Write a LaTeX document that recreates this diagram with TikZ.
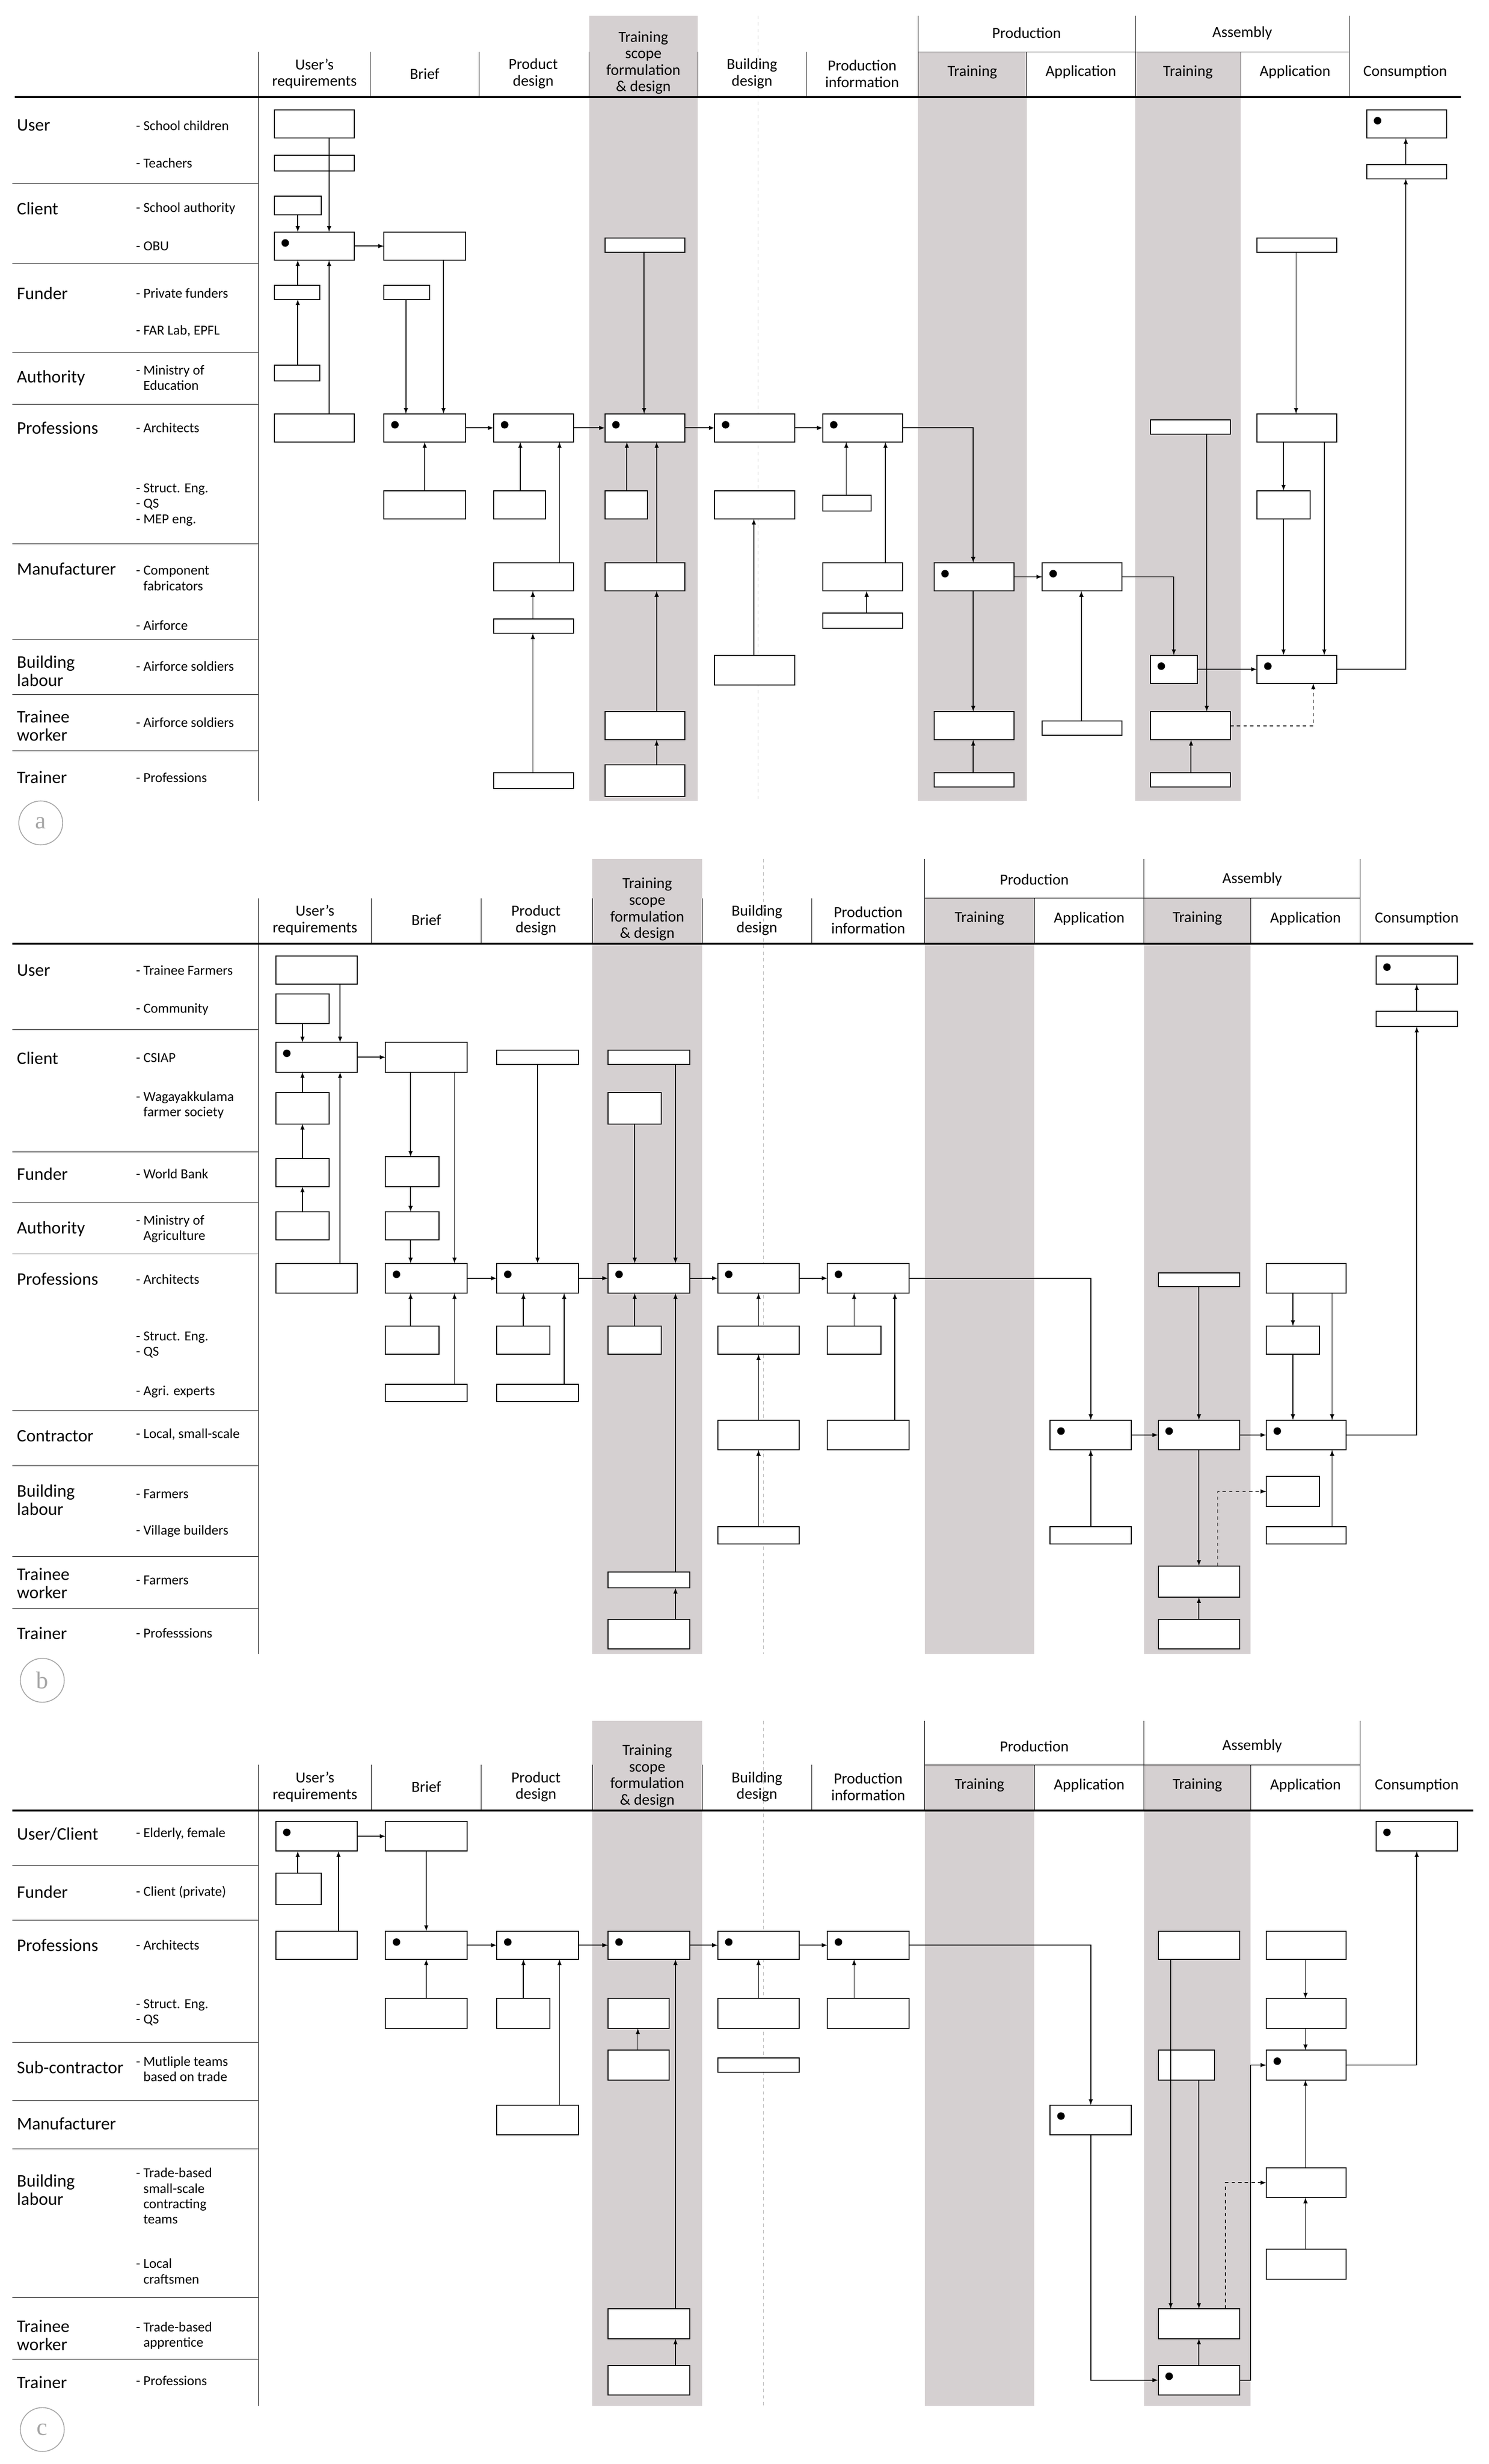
\documentclass[tikz,border=0pt]{standalone}
\usepackage{fontspec}
\setmainfont{Carlito}
\newfontfamily\serf{Liberation Serif}
\usetikzlibrary{arrows}
\definecolor{shd}{RGB}{213,208,209}

% boxes given by corners, dotted variant marks the leading actor
\newcommand\bx[5]{\node[box,minimum width={(#4-#2)*0.5mm},minimum height={(#5-#3)*0.5mm}] (#1) at ({(#2+#4)/2},{(#3+#5)/2}) {};}
\newcommand\bxd[5]{\bx{#1}{#2}{#3}{#4}{#5}\fill ({#2+7},{#3+7}) circle (1.2mm);}
% vertical and horizontal connectors
\newcommand\vup[3]{\draw[arr] (#1,0 |- #2.north) -- (#1,0 |- #3.south);}
\newcommand\vdn[3]{\draw[arr] (#1,0 |- #2.south) -- (#1,0 |- #3.north);}
\newcommand\hrt[2]{\draw[arr] (#1.east) -- (#1.east -| #2.west);}
\newcommand\rwl[2]{\node[rowlbl] at (10,#1) {#2};}
\newcommand\sbl[2]{\node[sublbl] at (86,#1) {#2};}

% column header of one panel: top, bar, bottom, stretch
\newcommand\header[4]{%
\pgfmathsetmacro\hs{#2-29}
\begin{scope}[shift={(165,0)},xscale=#4,shift={(-165,0)}]
\fill[shd] (378,#1) rectangle (448,#3);
\fill[shd] (590,\hs) rectangle (660,#3);
\fill[shd] (730,\hs) rectangle (798,#3);
\draw[gray!60,dashed] (487,#1) -- (487,#3);
\draw (165,\hs) -- (165,#3);
\foreach \c in {237,307,378,448,518,660,798} \draw (\c,\hs) -- (\c,#2);
\foreach \c in {590,730,868} \draw (\c,#1) -- (\c,#2);
\draw (590,\hs) -- (868,\hs);
\draw[line width=1.6pt] (8,#2) -- (940,#2);
\node[hdr] (h1) at (201,#2-15) {User's\\requirements};
\node[hdr] (h2) at (272,#2-15) {Brief};
\node[hdr] (h3) at (342,#2-15) {Product\\design};
\node[hdr,anchor=south] (h4) at (413,#2-1) {Training\\scope\\formulation\\\& design};
\node[hdr] (h5) at (483,#2-15) {Building\\design};
\node[hdr] (h6) at (554,#2-15) {Production\\information};
\node[hdr] (h7) at (660,\hs-12) {Production};
\node[hdr] (h8) at (799,\hs-12) {Assembly};
\node[hdr] (h9) at (625,#2-16) {Training};
\node[hdr] (h10) at (695,#2-16) {Application};
\node[hdr] (h11) at (764,#2-16) {Training};
\node[hdr] (h12) at (833,#2-16) {Application};
\node[hdr] (h13) at (904,#2-16) {Consumption};
\end{scope}}

\begin{document}
\begin{tikzpicture}[x=0.5mm,y=-0.5mm
  ,box/.style={draw,line width=0.9pt,fill=white,inner sep=0pt,outer sep=0pt}
  ,arr/.style={line width=0.8pt,-latex}
  ,darr/.style={arr,dashed}
  ,rowlbl/.style={anchor=west,align=left,inner sep=1pt,font=\fontsize{16}{16.5}\selectfont}
  ,sublbl/.style={anchor=west,align=left,inner sep=1pt,font=\fontsize{12.5}{14}\selectfont}
  ,hdr/.style={align=center,inner sep=1pt,font=\fontsize{14}{15}\selectfont}
  ,tag/.style={circle,draw=gray!70,text=gray!70,line width=0.8pt,minimum size=14mm,inner sep=0pt,font=\serf\fontsize{22}{22}\selectfont}
]
\useasboundingbox (0,0) rectangle (950,1572);

% --- panel a ---
\header{10}{62}{511}{0.99}
\foreach \y in {117,168,225,258,347,408,443,479} \draw (8,\y) -- (165,\y);
\rwl{80}{User}\rwl{133}{Client}\rwl{187}{Funder}\rwl{241}{Authority}\rwl{273}{Professions}
\rwl{363}{Manufacturer}\rwl{428}{Building\\labour}\rwl{463}{Trainee\\worker}\rwl{496}{Trainer}
\sbl{80}{- School children}\sbl{104}{- Teachers}\sbl{133}{- School authority}\sbl{157}{- OBU}
\sbl{187}{- Private funders}\sbl{211}{- FAR Lab, EPFL}\sbl{241}{- Ministry of\\\phantom{- }Education}
\sbl{273}{- Architects}\sbl{322}{- Struct. Eng.\\- QS\\- MEP eng.}
\sbl{369}{- Component\\\phantom{- }fabricators}\sbl{399}{- Airforce}\sbl{425}{- Airforce soldiers}
\sbl{461}{- Airforce soldiers}\sbl{496}{- Professions}

\bx{a1}{175}{70}{226}{88}\bx{a2}{175}{99}{226}{109}\bx{a3}{175}{125}{205}{137}
\bxd{a4}{175}{148}{226}{166}\bx{a5}{175}{182}{204}{191}\bx{a6}{175}{233}{204}{243}
\bx{a7}{175}{264}{226}{282}\bx{a8}{245}{148}{297}{166}\bx{a9}{245}{182}{274}{191}
\bxd{a10}{245}{264}{297}{282}\bx{a11}{245}{313}{297}{331}\bxd{a12}{315}{264}{366}{282}
\bx{a13}{315}{313}{348}{331}\bx{a14}{315}{359}{366}{377}\bx{a15}{315}{395}{366}{404}
\bx{a16}{315}{493}{366}{503}\bx{a17}{386}{152}{437}{161}\bxd{a18}{386}{264}{437}{282}
\bx{a19}{386}{313}{413}{331}\bx{a20}{386}{359}{437}{377}\bx{a21}{386}{454}{437}{472}
\bx{a22}{386}{488}{437}{508}\bxd{a23}{456}{264}{507}{282}\bx{a24}{456}{313}{507}{331}
\bx{a25}{456}{418}{507}{437}\bxd{a26}{525}{264}{576}{282}\bx{a27}{525}{316}{556}{326}
\bx{a28}{525}{359}{576}{377}\bx{a29}{525}{391}{576}{401}\bxd{a30}{596}{359}{647}{377}
\bx{a31}{596}{454}{647}{472}\bx{a32}{596}{493}{647}{502}\bxd{a33}{665}{359}{716}{377}
\bx{a34}{665}{460}{716}{469}\bx{a35}{734}{268}{785}{277}\bxd{a36}{734}{418}{764}{436}
\bx{a37}{734}{454}{785}{472}\bx{a38}{734}{493}{785}{502}\bx{a39}{802}{152}{853}{161}
\bx{a40}{802}{264}{853}{282}\bx{a41}{802}{313}{836}{331}\bxd{a42}{802}{418}{853}{436}
\bxd{a43}{872}{70}{923}{88}\bx{a44}{872}{105}{923}{114}

\vdn{210}{a1}{a4}\vdn{190}{a3}{a4}\vup{190}{a5}{a4}\vup{190}{a6}{a5}\vup{210}{a7}{a4}
\hrt{a4}{a8}\vdn{283}{a8}{a10}\vdn{259}{a9}{a10}\vup{271}{a11}{a10}
\hrt{a10}{a12}\vup{332}{a13}{a12}\vup{357}{a14}{a12}\vup{340}{a15}{a14}\vup{340}{a16}{a15}
\hrt{a12}{a18}\vdn{411}{a17}{a18}\vup{400}{a19}{a18}\vup{419}{a22}{a21}\vup{419}{a21}{a20}\vup{419}{a20}{a18}
\hrt{a18}{a23}\vup{481}{a25}{a24}
\hrt{a23}{a26}\vup{540}{a27}{a26}\vup{565}{a28}{a26}\vup{553}{a29}{a28}
\draw[arr] (a26.east) -| (621,0 |- a30.north);
\vdn{621}{a30}{a31}\vup{621}{a32}{a31}\hrt{a30}{a33}\vup{690}{a34}{a33}
\draw[arr] (a33.east) -| (749,0 |- a36.north);
\vdn{770}{a35}{a37}\vup{760}{a38}{a37}\hrt{a36}{a42}
\draw[darr] (a37.east) -| (838,0 |- a42.south);
\vdn{827}{a39}{a40}\vdn{819}{a40}{a41}\vdn{819}{a41}{a42}\vdn{845}{a40}{a42}
\draw[arr] (a42.east) -| (897,0 |- a44.south);
\vup{897}{a44}{a43}
\node[tag] (taga) at (26,525) {a};

% --- panel b ---
\header{548}{602}{1055}{1}
\foreach \y in {657,735,767,800,900,935,993,1026} \draw (8,\y) -- (165,\y);
\rwl{619}{User}\rwl{675}{Client}\rwl{749}{Funder}\rwl{784}{Authority}\rwl{816}{Professions}
\rwl{916}{Contractor}\rwl{957}{Building\\labour}\rwl{1010}{Trainee\\worker}\rwl{1042}{Trainer}
\sbl{619}{- Trainee Farmers}\sbl{644}{- Community}\sbl{675}{- CSIAP}
\sbl{705}{- Wagayakkulama\\\phantom{- }farmer society}\sbl{749}{- World Bank}
\sbl{784}{- Ministry of\\\phantom{- }Agriculture}\sbl{816}{- Architects}\sbl{858}{- Struct. Eng.\\- QS}
\sbl{888}{- Agri. experts}\sbl{915}{- Local, small-scale}\sbl{953}{- Farmers}\sbl{977}{- Village builders}
\sbl{1008}{- Farmers}\sbl{1042}{- Professsions}

\bx{b1}{176}{610}{228}{628}\bx{b2}{176}{634}{210}{653}\bxd{b3}{176}{665}{228}{684}
\bx{b4}{176}{697}{210}{717}\bx{b5}{176}{739}{210}{757}\bx{b6}{176}{773}{210}{791}
\bx{b7}{176}{806}{228}{825}\bx{b8}{246}{665}{298}{684}\bx{b9}{246}{738}{280}{757}
\bx{b10}{246}{773}{280}{791}\bxd{b11}{246}{806}{298}{825}\bx{b12}{246}{846}{280}{864}
\bx{b13}{246}{883}{298}{894}\bx{b14}{317}{670}{369}{679}\bxd{b15}{317}{806}{369}{825}
\bx{b16}{317}{846}{351}{864}\bx{b17}{317}{883}{369}{894}\bx{b18}{388}{670}{440}{679}
\bx{b19}{388}{697}{422}{717}\bxd{b20}{388}{806}{440}{825}\bx{b21}{388}{846}{422}{864}
\bx{b22}{388}{1003}{440}{1013}\bx{b23}{388}{1033}{440}{1052}\bxd{b24}{458}{806}{510}{825}
\bx{b25}{458}{846}{510}{864}\bx{b26}{458}{906}{510}{925}\bx{b27}{458}{974}{510}{985}
\bxd{b28}{528}{806}{580}{825}\bx{b29}{528}{846}{562}{864}\bx{b30}{528}{906}{580}{925}
\bxd{b31}{670}{906}{722}{925}\bx{b32}{670}{974}{722}{985}\bx{b33}{739}{812}{791}{821}
\bxd{b34}{739}{906}{791}{925}\bx{b35}{739}{999}{791}{1019}\bx{b36}{739}{1033}{791}{1052}
\bx{b37}{808}{806}{859}{825}\bx{b38}{808}{846}{842}{864}\bxd{b39}{808}{906}{859}{925}
\bx{b40}{808}{942}{842}{961}\bx{b41}{808}{974}{859}{985}\bxd{b42}{878}{610}{930}{628}
\bx{b43}{878}{645}{930}{655}

\vdn{217}{b1}{b3}\vdn{193}{b2}{b3}\vup{193}{b4}{b3}\vup{193}{b5}{b4}\vup{193}{b6}{b5}\vup{217}{b7}{b3}
\hrt{b3}{b8}\vdn{290}{b8}{b11}\vdn{262}{b8}{b9}\vdn{262}{b9}{b10}\vdn{262}{b10}{b11}
\vup{262}{b12}{b11}\vup{290}{b13}{b11}
\hrt{b11}{b15}\vdn{343}{b14}{b15}\vup{334}{b16}{b15}\vup{360}{b17}{b15}
\hrt{b15}{b20}\vdn{431}{b18}{b20}\vdn{405}{b19}{b20}\vup{405}{b21}{b20}\vup{431}{b23}{b22}\vup{431}{b22}{b20}
\hrt{b20}{b24}\vup{484}{b25}{b24}\vup{484}{b26}{b25}\vup{484}{b27}{b26}
\hrt{b24}{b28}\vup{545}{b29}{b28}\vup{571}{b30}{b28}
\draw[arr] (b28.east) -| (696,0 |- b31.north);
\vup{696}{b32}{b31}\hrt{b31}{b34}\vdn{765}{b33}{b34}\vdn{765}{b34}{b35}\vup{765}{b36}{b35}
\vdn{850}{b37}{b39}\vdn{825}{b37}{b38}\vdn{825}{b38}{b39}\hrt{b34}{b39}\vup{850}{b41}{b39}
\draw[darr] (777,0 |- b35.north) |- (b40.west);
\draw[arr] (b39.east) -| (904,0 |- b43.south);
\vup{904}{b43}{b42}
\node[tag] (tagb) at (27,1072) {b};

% --- panel c ---
\header{1098}{1155}{1535}{1}
\foreach \y in {1190,1225,1303,1340,1371,1466,1505} \draw (8,\y) -- (165,\y);
\rwl{1170}{User/Client}\rwl{1207}{Funder}\rwl{1241}{Professions}\rwl{1319}{Sub-contractor}
\rwl{1355}{Manufacturer}\rwl{1397}{Building\\labour}\rwl{1490}{Trainee\\worker}\rwl{1520}{Trainer}
\sbl{1170}{- Elderly, female}\sbl{1207}{- Client (private)}\sbl{1241}{- Architects}
\sbl{1284}{- Struct. Eng.\\- QS}\sbl{1320}{- Mutliple teams\\\phantom{- }based on trade}
\sbl{1401}{- Trade-based\\\phantom{- }small-scale\\\phantom{- }contracting\\\phantom{- }teams}
\sbl{1449}{- Local\\\phantom{- }craftsmen}\sbl{1490}{- Trade-based\\\phantom{- }apprentice}
\sbl{1519}{- Professions}

\bxd{c1}{176}{1162}{228}{1181}\bx{c2}{176}{1195}{205}{1215}\bx{c3}{176}{1232}{228}{1250}
\bx{c4}{246}{1162}{298}{1181}\bxd{c5}{246}{1232}{298}{1250}\bx{c6}{246}{1275}{298}{1294}
\bxd{c7}{317}{1232}{369}{1250}\bx{c8}{317}{1275}{351}{1294}\bx{c9}{317}{1343}{369}{1362}
\bxd{c10}{388}{1232}{440}{1250}\bx{c11}{388}{1275}{427}{1294}\bx{c12}{388}{1308}{427}{1327}
\bx{c13}{388}{1473}{440}{1492}\bx{c14}{388}{1509}{440}{1528}\bxd{c15}{458}{1232}{510}{1250}
\bx{c16}{458}{1275}{510}{1294}\bx{c17}{458}{1313}{510}{1322}\bxd{c18}{528}{1232}{580}{1250}
\bx{c19}{528}{1275}{580}{1294}\bxd{c20}{670}{1343}{722}{1362}\bx{c21}{739}{1232}{791}{1250}
\bx{c22}{739}{1308}{775}{1327}\bx{c23}{739}{1473}{791}{1492}\bxd{c24}{739}{1509}{791}{1528}
\bx{c25}{808}{1232}{859}{1250}\bx{c26}{808}{1275}{859}{1294}\bxd{c27}{808}{1308}{859}{1327}
\bx{c28}{808}{1383}{859}{1402}\bx{c29}{808}{1435}{859}{1454}\bxd{c30}{878}{1162}{930}{1181}

\hrt{c1}{c4}\vup{190}{c2}{c1}\vup{216}{c3}{c1}\vdn{272}{c4}{c5}\vup{272}{c6}{c5}
\hrt{c5}{c7}\vup{334}{c8}{c7}\vup{357}{c9}{c7}
\hrt{c7}{c10}\vup{407}{c12}{c11}\vup{431}{c14}{c13}\vup{431}{c13}{c10}
\hrt{c10}{c15}\vup{484}{c16}{c15}\hrt{c15}{c18}\vup{545}{c19}{c18}
\draw[arr] (c18.east) -| (696,0 |- c20.north);
\draw[arr] (696,0 |- c20.south) |- (c24.west);
\vdn{747}{c21}{c23}\vdn{765}{c22}{c23}\vup{765}{c24}{c23}
\draw[darr] (782,0 |- c23.north) |- (c28.west);
\draw[arr] (c24.east) -- (798,0 |- c24.east) -- (798,0 |- c27.west) -- (c27.west);
\vdn{833}{c25}{c26}\vdn{833}{c26}{c27}\vup{833}{c29}{c28}\vup{833}{c28}{c27}
\draw[arr] (c27.east) -| (904,0 |- c30.south);
\node[tag] (tagc) at (27,1550) {c};
\end{tikzpicture}
\end{document}
